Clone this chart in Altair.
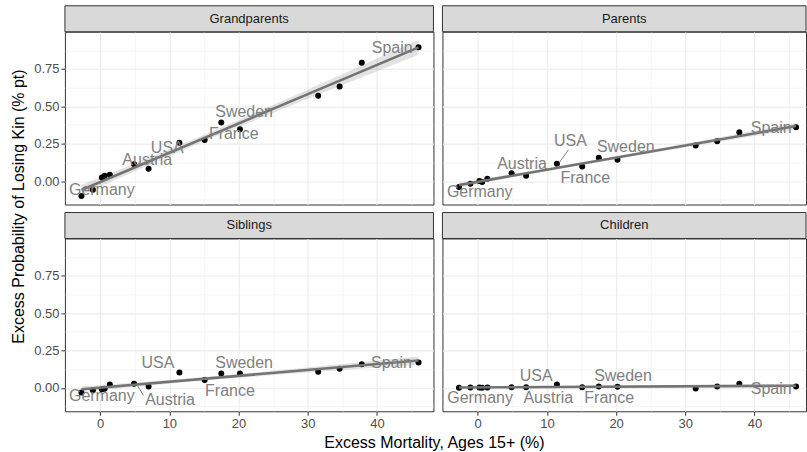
import altair as alt
import numpy as np
import pandas as pd

# ---------------- data ----------------
PANELS = ["Grandparents", "Parents", "Siblings", "Children"]
COUNTRY_LABELS = ["Germany", "", "", "", "", "Austria", "", "USA", "", "Sweden",
                  "France", "", "", "", "Spain"]
EXCESS_MORTALITY = [-2.7, -1.05, 0.25, 0.65, 1.4, 4.9, 7.0, 11.45, 15.1, 17.5,
                    20.2, 31.5, 34.6, 37.8, 46.0]
GRANDPARENTS = [-0.100, -0.058, 0.024, 0.035, 0.042, 0.113, 0.082, 0.257, 0.274, 0.392,
                0.347, 0.571, 0.633, 0.792, 0.896]
PARENTS = [-0.040, -0.018, 0.000, -0.007, 0.016, 0.053, 0.036, 0.116, 0.098, 0.156,
           0.142, 0.238, 0.267, 0.327, 0.360]
SIBLINGS = [-0.031, -0.016, -0.009, -0.007, 0.022, 0.027, 0.009, 0.102, 0.053, 0.096,
            0.096, 0.107, 0.127, 0.158, 0.169]
CHILDREN = [0.000, 0.002, 0.002, 0.000, 0.002, 0.004, 0.004, 0.022, 0.004, 0.009,
            0.007, -0.004, 0.009, 0.027, 0.009]
SERIES = {"Grandparents": GRANDPARENTS, "Parents": PARENTS,
          "Siblings": SIBLINGS, "Children": CHILDREN}

X_BREAKS = [0, 5, 10, 15, 20, 25, 30, 35, 40, 45]
Y_BREAKS = [-0.125, 0, 0.125, 0.25, 0.375, 0.5, 0.625, 0.75, 0.875]

# repelled label placement (nudge from the point, in data units)
LABEL_NUDGE = {
    "Grandparents": {"Germany": (2.94, 0.040), "Austria": (1.9, 0.026), "USA": (-1.75, -0.038),
                     "Sweden": (3.3, 0.070), "France": (-0.9, -0.035), "Spain": (-3.8, -0.004)},
    "Parents": {"Germany": (3.0, -0.033), "Austria": (1.5, 0.063), "USA": (1.95, 0.155),
                "Sweden": (3.9, 0.071), "France": (-4.65, -0.120), "Spain": (-3.6, -0.004)},
    "Siblings": {"Germany": (2.94, -0.027), "Austria": (5.2, -0.111), "USA": (-3.1, 0.062),
                 "Sweden": (3.3, 0.068), "France": (-1.45, -0.120), "Spain": (-3.9, -0.005)},
    "Children": {"Germany": (3.04, -0.069), "Austria": (5.3, -0.073), "USA": (-3.0, 0.060),
                 "Sweden": (3.5, 0.073), "France": (-1.2, -0.076), "Spain": (-3.6, -0.016)},
}
# repel segments (start/end offsets from the point, data units)
SEGMENTS = {("Parents", "USA"): (0.35, 0.008, 1.65, 0.093),
            ("Siblings", "Austria"): (0.48, -0.011, 1.35, -0.078)}

T_975_DF13 = 2.1604  # t quantile for a 95% band, n - 2 = 13 degrees of freedom

# ---------------- tables ----------------
rows = []
for kin in PANELS:
    for lab, x, y in zip(COUNTRY_LABELS, EXCESS_MORTALITY, SERIES[kin]):
        dx, dy = LABEL_NUDGE[kin].get(lab, (0.0, 0.0))
        seg = SEGMENTS.get((kin, lab))
        rows.append(dict(kin=kin, label=lab, x=x, y=y, lx=x + dx, ly=y + dy,
                         sx0=x + seg[0] if seg else None, sy0=y + seg[1] if seg else None,
                         sx1=x + seg[2] if seg else None, sy1=y + seg[3] if seg else None,
                         has_seg=bool(seg)))
df = pd.DataFrame(rows)

band_rows = []
for kin in PANELS:
    x = np.asarray(EXCESS_MORTALITY, float)
    y = np.asarray(SERIES[kin], float)
    X = np.column_stack([np.ones_like(x), x])
    beta = np.linalg.lstsq(X, y, rcond=None)[0]
    resid = y - X @ beta
    s2 = resid @ resid / (len(x) - 2)
    xtxi = np.linalg.inv(X.T @ X)
    xs = np.linspace(x.min(), x.max(), 80)
    Xs = np.column_stack([np.ones_like(xs), xs])
    fit = Xs @ beta
    se = np.sqrt(np.einsum("ij,jk,ik->i", Xs, xtxi, Xs) * s2)
    for a, f, s in zip(xs, fit, se):
        band_rows.append(dict(kin=kin, x=a, lo=f - T_975_DF13 * s, hi=f + T_975_DF13 * s))
bands = pd.DataFrame(band_rows)

# ---------------- styling ----------------
GRID = "#ebebeb"
DARK = "#333333"
H = 173
W_LEFT, W_RIGHT = 369, 364
PX_PER_UNIT = 6.93
X_MIN = -5.09
Y_DOMAIN = [-0.157, 0.999]
FONT = "Liberation Sans"

MAJOR_X = "datum.value % 10 == 0"
MAJOR_Y = "abs(datum.value * 4 - round(datum.value * 4)) < 0.000001"


def make_panel(kin, width, show_x, show_y, extras=()):
    x_dom = [X_MIN, X_MIN + width / PX_PER_UNIT]
    xs = alt.Scale(domain=x_dom, nice=False, zero=False)
    ys = alt.Scale(domain=Y_DOMAIN, nice=False, zero=False)
    xaxis = alt.Axis(values=X_BREAKS, title=None, domain=False, grid=True, gridColor=GRID,
                     gridWidth={"condition": {"test": MAJOR_X, "value": 1.1}, "value": 0.55},
                     labels=show_x, labelExpr=f"{MAJOR_X} ? datum.label : ''",
                     labelColor="#4d4d4d", labelFontSize=13, labelPadding=2, labelFont=FONT,
                     ticks=show_x, tickColor=DARK, tickSize=4, tickWidth=1,
                     tickOpacity={"condition": {"test": MAJOR_X, "value": 1}, "value": 0})
    yaxis = alt.Axis(values=Y_BREAKS, title=None, domain=False, grid=True, gridColor=GRID,
                     gridWidth={"condition": {"test": MAJOR_Y, "value": 1.1}, "value": 0.55},
                     labels=show_y, format=".2f", labelExpr=f"{MAJOR_Y} ? datum.label : ''",
                     labelColor="#4d4d4d", labelFontSize=13, labelPadding=2, labelFont=FONT,
                     ticks=show_y, tickColor=DARK, tickSize=4, tickWidth=1,
                     tickOpacity={"condition": {"test": MAJOR_Y, "value": 1}, "value": 0})

    def X(f):
        return alt.X(f, type="quantitative", scale=xs, axis=xaxis)

    def Y(f):
        return alt.Y(f, type="quantitative", scale=ys, axis=yaxis)

    pts = df[df.kin == kin]
    band = bands[bands.kin == kin]

    ribbon = alt.Chart(band).mark_area(color="#999999", opacity=0.28).encode(
        x=X("x"), y=Y("lo"), y2="hi:Q")
    points = alt.Chart(pts).mark_circle(size=36, color="black", opacity=1).encode(
        x=X("x"), y=Y("y"))
    line = alt.Chart(pts).transform_regression("x", "y").mark_line(
        color="#737373", strokeWidth=2.6).encode(x=X("x"), y=Y("y"))
    segs = alt.Chart(pts).transform_filter("datum.has_seg").mark_rule(
        color="#7f7f7f", strokeWidth=1).encode(x=X("sx0"), y=Y("sy0"), x2="sx1:Q", y2="sy1:Q")
    labels = alt.Chart(pts).transform_filter("datum.label != ''").mark_text(
        fontSize=16, color="#808080", font=FONT, fontWeight="normal",
        align="center", baseline="middle").encode(
        x=X("lx"), y=Y("ly"), text="label:N")

    strip_df = pd.DataFrame({"kin": [kin]})
    strip = alt.Chart(strip_df).mark_rect(fill="#d9d9d9", stroke=DARK, strokeWidth=1).encode(
        x=alt.value(0), x2=alt.value(width), y=alt.value(-26), y2=alt.value(0))
    strip_txt = alt.Chart(strip_df).mark_text(
        fontSize=13, color="#1a1a1a", font=FONT, fontWeight="normal",
        align="center", baseline="middle").encode(
        x=alt.value(width / 2), y=alt.value(-13), text="kin:N")

    layers = [ribbon, points, line, segs, labels, strip, strip_txt] + list(extras)
    return alt.layer(*layers).properties(width=width, height=H)


ytitle_df = pd.DataFrame({"t": ["Excess Probability of Losing Kin (% pt)"]})
xtitle_df = pd.DataFrame({"t": ["Excess Mortality, Ages 15+ (%)"]})
y_title = alt.Chart(ytitle_df).mark_text(
    fontSize=16, color="black", font=FONT, fontWeight="normal", angle=270,
    align="center", baseline="middle").encode(
    x=alt.value(-46), y=alt.value(175), text="t:N")
x_title = alt.Chart(xtitle_df).mark_text(
    fontSize=16, color="black", font=FONT, fontWeight="normal",
    align="center", baseline="middle").encode(
    x=alt.value(370), y=alt.value(205), text="t:N")

p1 = make_panel("Grandparents", W_LEFT, False, True, extras=[y_title])
p2 = make_panel("Parents", W_RIGHT, False, False)
p3 = make_panel("Siblings", W_LEFT, True, True, extras=[x_title])
p4 = make_panel("Children", W_RIGHT, True, False)

chart = alt.concat(p1, p2, p3, p4, columns=2, spacing={"row": 34, "column": 9},
                   bounds="flush").properties(
    padding={"left": 10, "top": 4.5, "right": 0, "bottom": 0}
).configure(font=FONT).configure_view(stroke=DARK, strokeWidth=1)

chart.save("out.html", embed_options={"renderer": "svg", "actions": False})
